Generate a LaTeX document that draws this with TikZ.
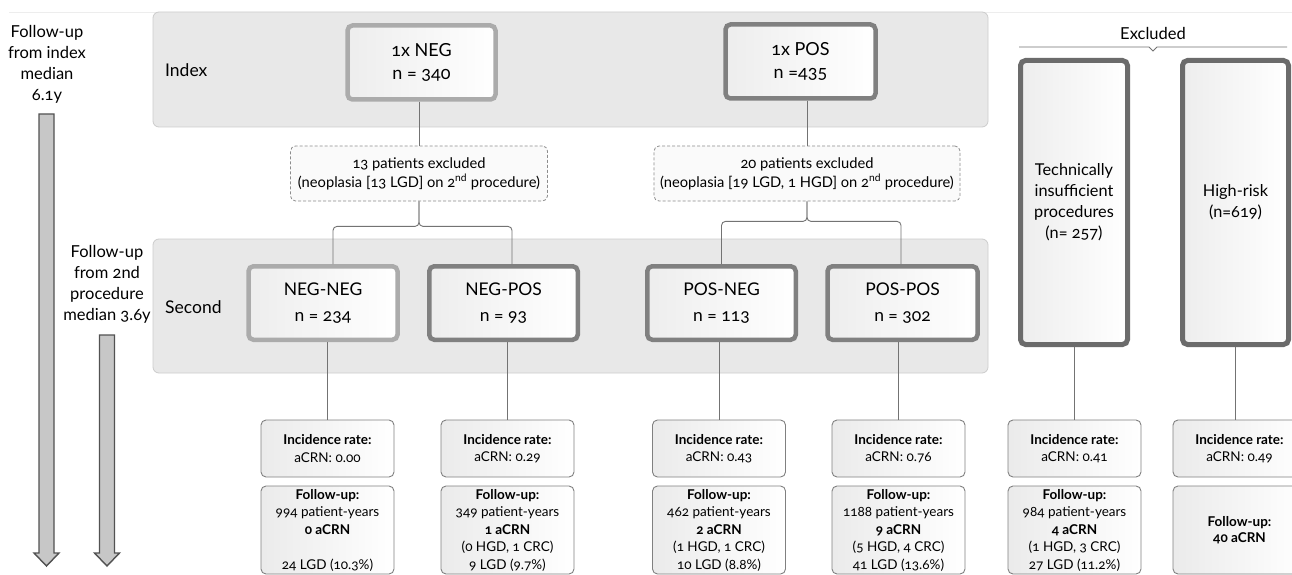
\documentclass[tikz,border=0pt]{standalone}
\usepackage{fontspec}
\setmainfont{Lato}[Numbers=OldStyle]
\tikzset{
  conn/.style={draw=black!55, line width=0.9pt},
  band/.style={draw=black!20, fill=black!9, rounded corners=6pt, line width=0.8pt, inner sep=0pt},
  grpbox/.style={rounded corners=5pt, line width=4.5pt, left color=black!7, right color=white, inner sep=0pt, align=center},
  idxfont/.style={font=\fontsize{18}{23}\selectfont},
  secfont/.style={font=\fontsize{17.5}{26}\selectfont},
  lightbox/.style={grpbox, draw=black!33},
  darkbox/.style={grpbox, draw=black!50},
  exbox/.style={draw=black!45, dash pattern=on 3pt off 2pt, rounded corners=5pt, fill=black!2, line width=0.8pt, align=center, inner sep=0pt, minimum height=55pt, font=\fontsize{14.7}{19}\selectfont},
  tallbox/.style={draw=black!58, line width=5pt, rounded corners=5pt, left color=black!7, right color=white, align=center, inner sep=0pt, minimum height=284pt, font=\fontsize{16.3}{21}\selectfont},
  resbox/.style={draw=black!50, line width=0.9pt, rounded corners=5pt, left color=black!8, right color=white, align=center, inner sep=0pt, minimum width=133pt, font=\fontsize{13.5}{17.5}\selectfont},
  incbox/.style={resbox, minimum height=57pt},
  fubox/.style={resbox, minimum height=88pt},
  lbl/.style={inner sep=0pt, font=\fontsize{17.5}{22}\selectfont},
  sidetxt/.style={inner sep=0pt, align=center, font=\fontsize{16.5}{21}\selectfont},
  timearrow/.style={fill=black!22, draw=black!68, line width=1.4pt, line join=miter},
}
\begin{document}
\begin{tikzpicture}[x=1pt, y=-1pt]
\useasboundingbox (0,0) rectangle (1292,575);
\fill[white] (0,0) rectangle (1292,575);
\draw[black!7, line width=0.8pt] (9,12) -- (1292,12);

% bands
\node[band, minimum width=835pt, minimum height=115pt] (bandI) at (570.5,69.5) {};
\node[band, minimum width=835pt, minimum height=134pt] (bandII) at (570.5,306) {};
\node[lbl, anchor=west] (lblI) at (165,70) {Index};
\node[lbl, anchor=west] (lblII) at (165,307) {Second};

% index boxes
\node[lightbox, idxfont, minimum width=148pt, minimum height=74pt] (neg) at (421.5,62.5) {1x NEG\\n = 340};
\node[darkbox, idxfont, minimum width=150pt, minimum height=74pt] (pos) at (800.5,61.5) {1x POS\\n =435};

% excluded (dashed)
\node[exbox, minimum width=257pt] (ex1) at (419,173.5) {13 patients excluded\\(neoplasia [13 LGD] on 2\textsuperscript{nd} procedure)};
\node[exbox, minimum width=306pt] (ex2) at (807,173.5) {20 patients excluded\\(neoplasia [19 LGD, 1 HGD] on 2\textsuperscript{nd} procedure)};

% second boxes
\node[lightbox, secfont, minimum width=149pt, minimum height=73.5pt] (nn) at (323,303) {NEG-NEG\\n = 234};
\node[darkbox, secfont, minimum width=148.5pt, minimum height=73.5pt] (np) at (503.5,303) {NEG-POS\\n = 93};
\node[darkbox, secfont, minimum width=148.5pt, minimum height=73.5pt] (pn) at (721.5,303) {POS-NEG\\n = 113};
\node[darkbox, secfont, minimum width=150pt, minimum height=73.5pt] (pp) at (902.5,303) {POS-POS\\n = 302};

% excluded tall boxes
\node[sidetxt] (excl) at (1153,33) {Excluded};
\coordinate (exL) at (1019,47);
\coordinate (exR) at (1287,47);
\draw[conn] (exL) -- (1149,47) -- (1153,51) -- (1157,47) -- (exR);
\node[tallbox, minimum width=107pt] (tis) at (1074,202.5) {Technically\\insufficient\\procedures\\(n= 257)};
\node[tallbox, minimum width=106pt] (hr) at (1235.5,202.5) {High-risk\\(n=619)};

% result boxes
\node[incbox] (ib1) at (327.5,448.5) {\textbf{Incidence rate:}\\aCRN: 0.00};
\node[incbox] (ib2) at (507.5,448.5) {\textbf{Incidence rate:}\\aCRN: 0.29};
\node[incbox] (ib3) at (719,448.5) {\textbf{Incidence rate:}\\aCRN: 0.43};
\node[incbox] (ib4) at (898.5,448.5) {\textbf{Incidence rate:}\\aCRN: 0.76};
\node[incbox] (ib5) at (1074.5,448.5) {\textbf{Incidence rate:}\\aCRN: 0.41};
\node[incbox] (ib6) at (1239.5,448.5) {\textbf{Incidence rate:}\\aCRN: 0.49};

\node[fubox] (fb1) at (327.5,530) {\textbf{Follow-up:}\\994 patient-years\\\textbf{0 aCRN}\\[17.5pt]24 LGD (10.3\%)};
\node[fubox] (fb2) at (507.5,530) {\textbf{Follow-up:}\\349 patient-years\\\textbf{1 aCRN}\\(0 HGD, 1 CRC)\\9 LGD (9.7\%)};
\node[fubox] (fb3) at (719,530) {\textbf{Follow-up:}\\462 patient-years\\\textbf{2 aCRN}\\(1 HGD, 1 CRC)\\10 LGD (8.8\%)};
\node[fubox] (fb4) at (898.5,530) {\textbf{Follow-up:}\\1188 patient-years\\\textbf{9 aCRN}\\(5 HGD, 4 CRC)\\41 LGD (13.6\%)};
\node[fubox] (fb5) at (1074.5,530) {\textbf{Follow-up:}\\984 patient-years\\\textbf{4 aCRN}\\(1 HGD, 3 CRC)\\27 LGD (11.2\%)};
\node[fubox, font=\fontsize{13.5}{15.5}\selectfont] (fb6) at (1239.5,530) {\textbf{Follow-up:}\\\textbf{40 aCRN}};

% connectors
\draw[conn] (ex1.north |- neg.south) -- (ex1.north);
\draw[conn] (ex2.north |- pos.south) -- (ex2.north);
\draw[conn, rounded corners=4pt] (ex1.south) -- ++(0,25) -| ([xshift=10pt]nn.north);
\draw[conn, rounded corners=4pt] (ex1.south) -- ++(0,25) -| ([xshift=8.5pt]np.north);
\draw[conn, rounded corners=4pt] (ex2.south) -- ++(0,20) -| (pn.north);
\draw[conn, rounded corners=4pt] (ex2.south) -- ++(0,20) -| ([xshift=-1.5pt]pp.north);
\draw[conn] (ib1.north |- nn.south) -- (ib1.north);
\draw[conn] (ib2.north |- np.south) -- (ib2.north);
\draw[conn] (ib3.north |- pn.south) -- (ib3.north);
\draw[conn] (ib4.north |- pp.south) -- (ib4.north);
\draw[conn] (ib5.north |- tis.south) -- (ib5.north);
\draw[conn] (hr.south) -- (hr.south |- ib6.north);

% follow-up time arrows
\node[sidetxt] (fu1) at (47,64) {Follow-up\\from index\\median\\6.1y};
\node[sidetxt] (fu2) at (107,284.5) {Follow-up\\from 2nd\\procedure\\median 3.6y};
\draw[timearrow] (39,114) -- (54,114) -- (54,553) -- (59,553) -- (46.5,566) -- (34,553) -- (39,553) -- cycle;
\draw[timearrow] (99.5,335) -- (114.5,335) -- (114.5,553) -- (119.5,553) -- (107,566) -- (94.5,553) -- (99.5,553) -- cycle;
\end{tikzpicture}
\end{document}
